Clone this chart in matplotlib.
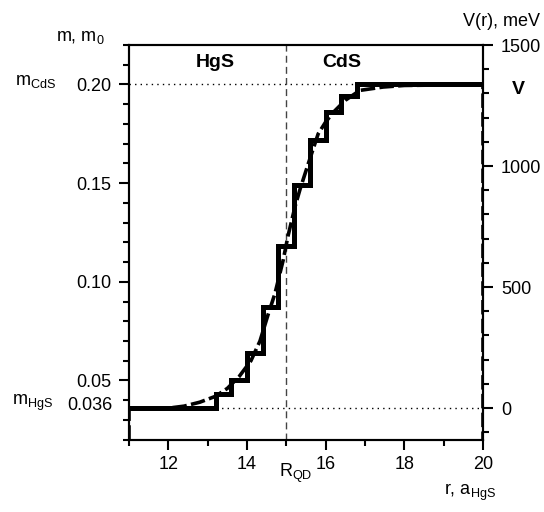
import matplotlib
matplotlib.use("Agg")
import matplotlib.pyplot as plt
from matplotlib.ticker import MultipleLocator, FixedLocator

plt.rcParams['font.family'] = ['Liberation Sans', 'DejaVu Sans']
plt.rcParams['mathtext.fontset'] = 'custom'
plt.rcParams['mathtext.rm'] = 'Liberation Sans'
plt.rcParams['mathtext.it'] = 'Liberation Sans'

# step profile of effective mass
step_r = [11.0, 13.2, 13.6, 14.0, 14.4, 14.8, 15.2, 15.6, 16.0, 16.4, 16.8, 20.0]
step_m = [0.036, 0.043, 0.050, 0.064, 0.087, 0.118, 0.149, 0.172, 0.186, 0.194, 0.200, 0.200]

# smooth (dashed) profile
smooth_r = [11.0, 11.0, 12.0, 12.4, 12.8, 13.2, 13.5, 13.8, 14.1, 14.33, 14.53, 14.71, 14.92,
            15.04, 15.22, 15.35, 15.56, 15.81, 16.0, 16.2, 16.5, 16.87, 17.46, 18.0, 20.0, 20.0]
smooth_m = [0.020, 0.036, 0.036, 0.037, 0.039, 0.042, 0.046, 0.052, 0.060, 0.070, 0.083, 0.094, 0.111,
            0.123, 0.138, 0.147, 0.160, 0.175, 0.181, 0.186, 0.192, 0.197, 0.1987, 0.1995, 0.200, 0.020]

m_hgs = 0.036
m_cds = 0.20
r_qd = 15.0
xlim = (11, 20)
ylim_m = (0.02, 0.22)
v_top = 1500.0

fig = plt.figure(figsize=(5.44, 5.12), dpi=100)
ax = fig.add_axes([129/544, 1-439.7/512, (483-129)/544, (439.7-45)/512])

ax.plot(smooth_r, smooth_m, color='black', lw=2.6, ls=(0, (4, 1.2)), zorder=3)
ax.step(step_r, step_m, where='post', color='black', lw=3.6, zorder=4, solid_joinstyle='miter')

ax.plot([xlim[0], xlim[1]], [m_cds, m_cds], color='black', lw=1.0, ls=(0, (1, 3)), zorder=1)
ax.plot([13.2, xlim[1]], [m_hgs, m_hgs], color='black', lw=1.0, ls=(0, (1, 3)), zorder=1)
ax.axvline(r_qd, color='#444444', lw=1.0, ls=(0, (5, 3)), zorder=1)

ax.set_xlim(*xlim)
ax.set_ylim(*ylim_m)
ax.xaxis.set_major_locator(MultipleLocator(2))
ax.xaxis.set_minor_locator(MultipleLocator(1))
ax.yaxis.set_major_locator(FixedLocator([0.05, 0.10, 0.15, 0.20]))
ax.yaxis.set_minor_locator(MultipleLocator(0.01))
ax.yaxis.set_major_formatter(matplotlib.ticker.FormatStrFormatter('%.2f'))

for s in ax.spines.values():
    s.set_linewidth(1.5)
ax.tick_params(axis='both', which='major', direction='out', length=7, width=1.5, labelsize=13)
ax.tick_params(axis='both', which='minor', direction='out', length=4.5, width=1.5)
ax.tick_params(axis='y', which='major', pad=6)
ax.tick_params(axis='x', which='major', pad=5)
ax.tick_params(top=False, right=False, which='both')

k = v_top / (ylim_m[1] - m_hgs)
ax2 = ax.twinx()
ax2.set_ylim((ylim_m[0] - m_hgs) * k, v_top)
ax2.yaxis.set_major_locator(MultipleLocator(500))
ax2.yaxis.set_minor_locator(MultipleLocator(100))
ax2.tick_params(axis='y', which='major', direction='out', length=7, width=1.5, labelsize=13, pad=6)
ax2.tick_params(axis='y', which='minor', direction='out', length=4.5, width=1.5)
for s in ax2.spines.values():
    s.set_linewidth(1.5)

# annotations
ax.text(13.2, 0.211, 'HgS', ha='center', va='center', fontsize=14, fontweight='bold')
ax.text(16.4, 0.211, 'CdS', ha='center', va='center', fontsize=14, fontweight='bold')

def px(x, y):
    return x / 544, 1 - y / 512

fig.text(*px(518, 89), 'V', ha='center', va='center', fontsize=14, fontweight='bold')
fig.text(*px(56, 38), r'm, m$_\mathrm{0}$', ha='left', va='center', fontsize=13)
fig.text(*px(15, 82), r'm$_\mathrm{CdS}$', ha='left', va='center', fontsize=13)
fig.text(*px(12, 403), r'm$_\mathrm{HgS}$', ha='left', va='center', fontsize=13)
fig.text(*px(113, 406), '0.036', ha='right', va='center', fontsize=13)
fig.text(*px(279, 473), r'R$_\mathrm{QD}$', ha='left', va='center', fontsize=13)
fig.text(*px(444, 492), r'r, a$_\mathrm{HgS}$', ha='left', va='center', fontsize=13)
fig.text(*px(540, 21), 'V(r), meV', ha='right', va='center', fontsize=13)

fig.savefig('out.png', dpi=100)
